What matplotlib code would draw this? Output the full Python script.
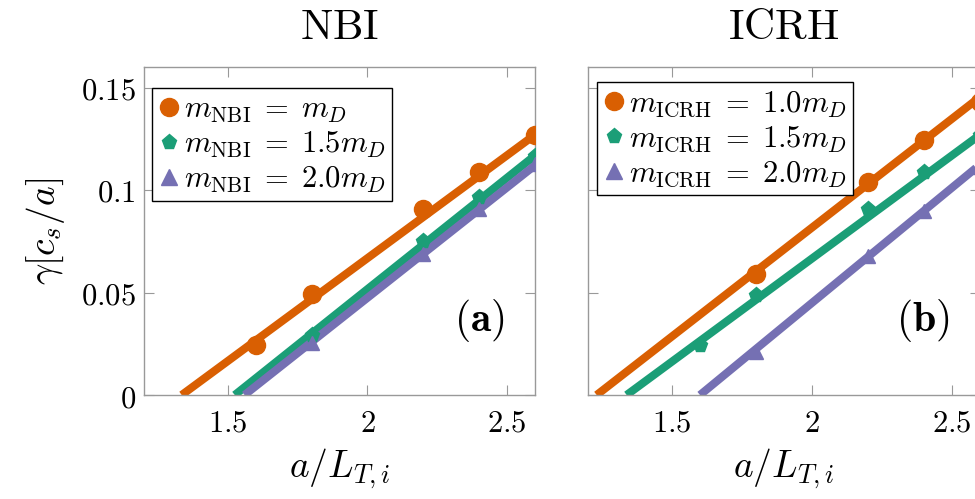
import matplotlib
matplotlib.use("Agg")
import matplotlib.pyplot as plt
from matplotlib.ticker import FixedLocator, FixedFormatter

plt.rcParams['mathtext.fontset'] = 'cm'
plt.rcParams['font.family'] = ['DejaVu Serif']

# ---- data ----
# NBI panel (a)
nbi_orange_x = [1.6, 1.8, 2.2, 2.4, 2.6]
nbi_orange_y = [0.0245, 0.0494, 0.0907, 0.109, 0.127]
nbi_green_x = [1.8, 2.2, 2.4, 2.6]
nbi_green_y = [0.0294, 0.0752, 0.0964, 0.1168]
nbi_purple_x = [1.8, 2.2, 2.4, 2.6]
nbi_purple_y = [0.0255, 0.0686, 0.0907, 0.1127]
# fitted lines (start at the y=0 intercept, end beyond the axes)
nbi_orange_fit_x = [1.335, 2.7]
nbi_orange_fit_y = [0.0, 0.137]
nbi_green_fit_x = [1.525, 2.7]
nbi_green_fit_y = [0.0, 0.1277]
nbi_purple_fit_x = [1.56, 2.7]
nbi_purple_fit_y = [0.0, 0.1228]

# ICRH panel (b)
icrh_orange_x = [1.8, 2.2, 2.4, 2.6]
icrh_orange_y = [0.0588, 0.104, 0.1242, 0.143]
icrh_green_x = [1.6, 1.8, 2.2, 2.4, 2.6]
icrh_green_y = [0.0245, 0.049, 0.0907, 0.1087, 0.127]
icrh_purple_x = [1.8, 2.2, 2.4, 2.6]
icrh_purple_y = [0.0212, 0.0678, 0.0899, 0.111]
icrh_orange_fit_x = [1.231, 2.7]
icrh_orange_fit_y = [0.0, 0.156]
icrh_green_fit_x = [1.338, 2.7]
icrh_green_fit_y = [0.0, 0.137]
icrh_purple_fit_x = [1.6, 2.7]
icrh_purple_fit_y = [0.0, 0.1236]

nbi_labels = [r'$m_{\mathrm{NBI}}\;=\;m_D$', r'$m_{\mathrm{NBI}}\;=\;1.5m_D$', r'$m_{\mathrm{NBI}}\;=\;2.0m_D$']
icrh_labels = [r'$m_{\mathrm{ICRH}}\;=\;1.0m_D$', r'$m_{\mathrm{ICRH}}\;=\;1.5m_D$', r'$m_{\mathrm{ICRH}}\;=\;2.0m_D$']

xticks = [1.5, 2.0, 2.5]
xtick_labels = ['1.5', '2', '2.5']
yticks = [0.0, 0.05, 0.1, 0.15]
ytick_labels = ['0', '0.05', '0.1', '0.15']

colors = ['#d95f02', '#1b9e77', '#7570b3']
markers = ['o', 'p', '^']
plot_ms = [13, 11, 9.5]
leg_ms = [13, 11, 11]

W, H = 975, 499
fig = plt.figure(figsize=(W / 100, H / 100), dpi=100)
axL = fig.add_axes([144 / W, 1 - 395 / H, 391 / W, 328 / H])
axR = fig.add_axes([588 / W, 1 - 395 / H, 392 / W, 328 / H])


def draw(ax, pts, fits, labels, title, tag, tagpos, legpos, show_ylabels):
    for (fx, fy), c in zip(fits, colors):
        ax.plot(fx, fy, color=c, lw=5.8, solid_capstyle='butt', zorder=2)
    for (px, py), c, m, ms in zip(pts, colors, markers, plot_ms):
        ax.plot(px, py, ls='none', marker=m, ms=ms, color=c, mec=c, zorder=3)
    handles = [plt.Line2D([], [], ls='none', marker=m, ms=ms, color=c, mec=c, label=lab)
               for c, m, ms, lab in zip(colors, markers, leg_ms, labels)]
    ax.set_xlim(1.2, 2.6)
    ax.set_ylim(0, 0.16)
    ax.xaxis.set_major_locator(FixedLocator(xticks))
    ax.xaxis.set_major_formatter(FixedFormatter(['$%s$' % s for s in xtick_labels]))
    ax.yaxis.set_major_locator(FixedLocator(yticks))
    if show_ylabels:
        ax.yaxis.set_major_formatter(FixedFormatter(['$%s$' % s for s in ytick_labels]))
    else:
        ax.yaxis.set_major_formatter(FixedFormatter([''] * len(yticks)))
    ax.tick_params(direction='in', length=7, width=0.8, color='#999999',
                   top=True, right=True, labelsize=22)
    ax.tick_params(axis='x', pad=9)
    ax.tick_params(axis='y', pad=6)
    for s in ax.spines.values():
        s.set_color('#999999')
        s.set_linewidth(1.0)
    ax.set_title(r'$\mathrm{%s}$' % title, fontsize=31, pad=20)
    ax.set_xlabel(r'$a/L_{T,i}$', fontsize=27, labelpad=6)
    ax.text(tagpos[0], tagpos[1], r'$\mathbf{(%s)}$' % tag, transform=ax.transAxes,
            fontsize=30, ha='center', va='center')
    leg = ax.legend(handles=handles, loc='upper left', bbox_to_anchor=legpos,
                    fontsize=22, frameon=True, fancybox=False, edgecolor='black',
                    framealpha=1, handlelength=0.7, handletextpad=0.15,
                    borderpad=0.2, labelspacing=0.12, borderaxespad=0.0)
    leg.get_frame().set_linewidth(1.0)


draw(axL,
     [(nbi_orange_x, nbi_orange_y), (nbi_green_x, nbi_green_y), (nbi_purple_x, nbi_purple_y)],
     [(nbi_orange_fit_x, nbi_orange_fit_y), (nbi_green_fit_x, nbi_green_fit_y), (nbi_purple_fit_x, nbi_purple_fit_y)],
     nbi_labels, 'NBI', 'a', ((479 - 144) / 391, (395 - 321) / 328),
     ((152 - 144) / 391, (395 - 88) / 328), True)
draw(axR,
     [(icrh_orange_x, icrh_orange_y), (icrh_green_x, icrh_green_y), (icrh_purple_x, icrh_purple_y)],
     [(icrh_orange_fit_x, icrh_orange_fit_y), (icrh_green_fit_x, icrh_green_fit_y), (icrh_purple_fit_x, icrh_purple_fit_y)],
     icrh_labels, 'ICRH', 'b', ((923 - 588) / 392, (395 - 321) / 328),
     ((597 - 588) / 392, (395 - 82) / 328), False)

axL.set_ylabel(r'$\gamma[c_s/a]$', fontsize=27, labelpad=10)

fig.savefig('out.png', dpi=100)
